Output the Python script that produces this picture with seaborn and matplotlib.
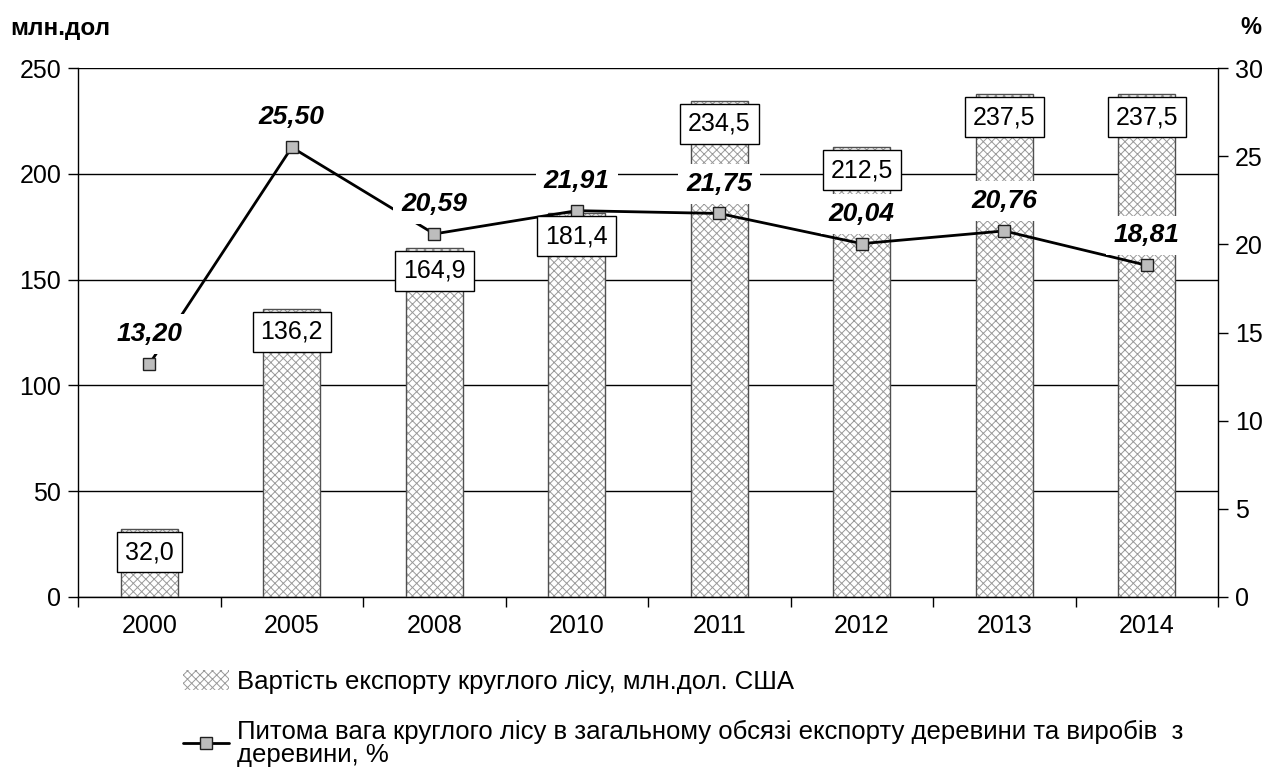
import matplotlib
matplotlib.use("Agg")
import matplotlib.pyplot as plt
import seaborn as sns
import pandas as pd
import numpy as np
from matplotlib.patches import Patch
from matplotlib.lines import Line2D

# Round timber export data
years = ["2000", "2005", "2008", "2010", "2011", "2012", "2013", "2014"]
export_value = [32.0, 136.2, 164.9, 181.4, 234.5, 212.5, 237.5, 237.5]
share_pct = [13.20, 25.50, 20.59, 21.91, 21.75, 20.04, 20.76, 18.81]

bar_label = "Вартість експорту круглого лісу, млн.дол. США"
line_label = ("Питома вага круглого лісу в загальному обсязі експорту деревини та виробів  з\n"
              "деревини, %")

sns.set_theme(style="white")
plt.rcParams["font.family"] = ["Liberation Sans", "DejaVu Sans"]
plt.rcParams["hatch.linewidth"] = 0.7
plt.rcParams["text.color"] = "black"
plt.rcParams["xtick.labelcolor"] = "black"
plt.rcParams["ytick.labelcolor"] = "black"

df = pd.DataFrame({"year": years, "value": export_value, "share": share_pct})

fig = plt.figure(figsize=(12.74, 7.69), dpi=100)
ax = fig.add_axes([78 / 1274, 1 - 597 / 769, (1218 - 78) / 1274, (597 - 68) / 769])

# Hatched bars (hatch drawn in grey, outline redrawn darker on top)
sns.barplot(data=df, x="year", y="value", order=years, ax=ax, width=0.4,
            color="white", edgecolor="#9a9a9a", hatch="xxxx", linewidth=0,
            saturation=1, zorder=2)
for p in ax.patches:
    p.set_hatch("xxxx")
sns.barplot(data=df, x="year", y="value", order=years, ax=ax, width=0.4,
            fill=False, edgecolor="#505050", linewidth=1.0, zorder=3)

ax.set_ylim(0, 250)
ax.set_xlim(-0.5, len(years) - 0.5)
ax.set_yticks(np.arange(0, 251, 50))
ax.yaxis.grid(True, color="black", linewidth=1.0)
ax.set_axisbelow(True)
ax.set_xlabel("")
ax.set_ylabel("")
for s in ["top", "right"]:
    ax.spines[s].set_visible(False)
for s in ["left", "bottom"]:
    ax.spines[s].set_color("black")
    ax.spines[s].set_linewidth(1.0)
ax.tick_params(axis="y", which="major", direction="out", length=7, width=1,
               color="black", labelcolor="black", labelsize=18, pad=5, left=True)
# category labels at centres, tick marks between categories
ax.set_xticks(range(len(years)))
ax.set_xticklabels(years)
ax.tick_params(axis="x", which="major", length=0, labelsize=18, pad=12,
               labelcolor="black")
ax.set_xticks(np.arange(-0.5, len(years), 1.0), minor=True)
ax.tick_params(axis="x", which="minor", direction="out", length=7, width=1,
               color="black", bottom=True)

# Secondary axis: share of round timber
ax2 = ax.twinx()
sns.lineplot(x=np.arange(len(years)), y=share_pct, ax=ax2, color="black",
             linewidth=2, marker="s", markersize=9, markerfacecolor="#bdbdbd",
             markeredgecolor="#202020", markeredgewidth=1.0, zorder=4)
ax2.set_ylim(0, 30)
ax2.set_yticks(np.arange(0, 31, 5))
ax2.set_xlim(-0.5, len(years) - 0.5)
for s in ["top", "left", "bottom"]:
    ax2.spines[s].set_visible(False)
ax2.spines["right"].set_color("black")
ax2.spines["right"].set_linewidth(1.0)
ax2.tick_params(axis="y", direction="out", length=7, width=1, color="black",
                labelcolor="black", labelsize=18, pad=5, right=True)
ax2.grid(False)

# Value labels on bars
for i, v in enumerate(export_value):
    ax2.annotate(f"{v:.1f}".replace(".", ","), xy=(i, v), xycoords=ax.transData,
                 xytext=(0, -16.5), textcoords="offset points",
                 ha="center", va="center", fontsize=18, zorder=6, color="black",
                 bbox=dict(boxstyle="square,pad=0.32", facecolor="white",
                           edgecolor="black", linewidth=1.0))

# Value labels for share line
for i, v in enumerate(share_pct):
    ax2.annotate(f"{v:.2f}".replace(".", ","), xy=(i, v),
                 xytext=(0, 21.5), textcoords="offset points",
                 ha="center", va="center", fontsize=19, fontweight="bold",
                 fontstyle="italic", zorder=5, color="black",
                 bbox=dict(boxstyle="square,pad=0.3", facecolor="white",
                           edgecolor="none"))

# Axis unit captions
fig.text(10 / 1274, 1 - 28 / 769, "млн.дол", fontsize=17.5, fontweight="bold",
         ha="left", va="center")
fig.text(1240 / 1274, 1 - 28 / 769, "%", fontsize=17, fontweight="bold",
         ha="left", va="center")

# Legend below the plot
handles = [
    Patch(facecolor="white", edgecolor="#9a9a9a", hatch="xxxx", linewidth=0),
    Line2D([0], [0], color="black", linewidth=2, marker="s", markersize=8,
           markerfacecolor="#bdbdbd", markeredgecolor="#202020"),
]
leg = fig.legend(handles, [bar_label, line_label], loc="upper left",
                 bbox_to_anchor=(183 / 1274, 1 - 670 / 769), frameon=False,
                 fontsize=18.5, handlelength=1.8, handleheight=0.8,
                 handletextpad=0.3, labelspacing=1.0, borderpad=0,
                 borderaxespad=0)
for t in leg.get_texts():
    t.set_linespacing(0.95)

fig.savefig("out.png", dpi=100)
